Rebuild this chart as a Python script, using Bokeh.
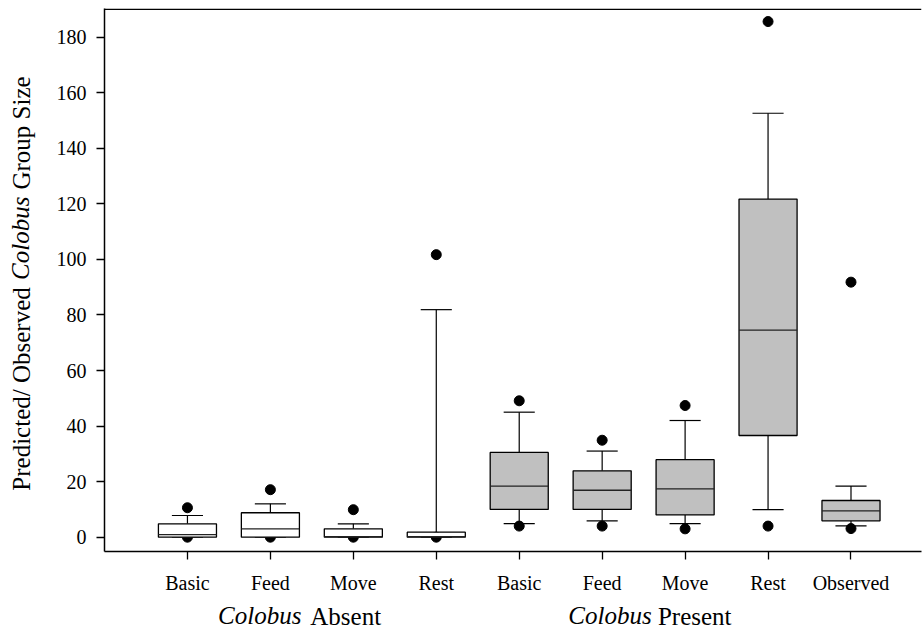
from bokeh.plotting import figure
from bokeh.models import FixedTicker, Span, Range1d, LinearAxis
from bokeh.embed import file_html
from bokeh.resources import INLINE

# ---- data ----
positions = [1, 2, 3, 4, 5, 6, 7, 8, 9]
categories = ["Basic", "Feed", "Move", "Rest", "Basic", "Feed", "Move", "Rest", "Observed"]
groups = ["Absent", "Absent", "Absent", "Absent", "Present", "Present", "Present", "Present", "Present"]
q1 = [0.0, 0.0, 0.0, 0.0, 10.0, 10.0, 8.0, 36.6, 5.9]
median = [0.9, 3.0, 0.2, 0.2, 18.4, 16.9, 17.4, 74.5, 9.5]
q3 = [4.8, 8.8, 3.0, 1.8, 30.5, 23.9, 27.9, 121.7, 13.2]
whisker_low = [0.0, 0.0, 0.0, 0.0, 4.9, 5.9, 4.9, 9.9, 4.1]
whisker_high = [7.8, 12.0, 4.8, 81.9, 45.0, 31.0, 42.0, 152.6, 18.4]
outlier_high = [10.6, 17.1, 9.9, 101.7, 49.1, 34.9, 47.4, 185.6, 91.8]
outlier_low = [0.0, 0.0, 0.0, 0.0, 4.0, 4.0, 3.0, 4.0, 3.1]
y_ticks = [0, 20, 40, 60, 80, 100, 120, 140, 160, 180]

group_italic = {1.872: "Colobus", 6.094: "Colobus"}
group_words = {2.908: "Absent", 7.116: "Present"}
ytitle_plain = {53.35: "Predicted/ Observed", 145.5: "Group Size"}
ytitle_italic = {107.6: "Colobus"}

BOX_W = 0.70
CAP_W = 0.375
FONT = "Liberation Serif"

fills = ["white" if g == "Absent" else "#c0c0c0" for g in groups]

p = figure(frame_width=817, frame_height=543,
           min_border_left=104, min_border_top=8, min_border_right=1, min_border_bottom=76,
           x_range=Range1d(0, 9.85), y_range=Range1d(-5.15, 190.3),
           output_backend="svg", toolbar_location=None)
p.outline_line_color = None
p.grid.visible = False
p.background_fill_color = "white"
p.border_fill_color = "white"

# outliers (drawn beneath boxes)
p.scatter(positions, outlier_high, size=10, color="black")
p.scatter(positions, outlier_low, size=10, color="black")

# whiskers
p.segment(x0=positions, y0=q3, x1=positions, y1=whisker_high, line_color="black", line_width=1.2)
p.segment(x0=positions, y0=q1, x1=positions, y1=whisker_low, line_color="black", line_width=1.2)
p.segment(x0=[x - CAP_W / 2 for x in positions], y0=whisker_high,
          x1=[x + CAP_W / 2 for x in positions], y1=whisker_high, line_color="black", line_width=1.2)
p.segment(x0=[x - CAP_W / 2 for x in positions], y0=whisker_low,
          x1=[x + CAP_W / 2 for x in positions], y1=whisker_low, line_color="black", line_width=1.2)

# boxes
p.vbar(x=positions, width=BOX_W, bottom=q1, top=q3, fill_color=fills,
       line_color="black", line_width=1.3)
# medians
p.segment(x0=[x - BOX_W / 2 for x in positions], y0=median,
          x1=[x + BOX_W / 2 for x in positions], y1=median, line_color="#222222", line_width=1.3)

# top border line
p.add_layout(Span(location=190, dimension="width", line_color="black", line_width=1.5))

# axes
for ax in (p.xaxis[0], p.yaxis[0]):
    ax.axis_line_color = "black"
    ax.axis_line_width = 1.5
    ax.major_tick_line_color = "black"
    ax.major_tick_line_width = 1.3
    ax.major_tick_in = 0
    ax.major_tick_out = 8
    ax.minor_tick_line_color = None
    ax.major_label_text_font = FONT
    ax.major_label_text_font_size = "20px"
    ax.major_label_text_color = "black"

p.yaxis.ticker = FixedTicker(ticks=y_ticks)
p.yaxis.major_label_standoff = 10
p.xaxis.ticker = FixedTicker(ticks=positions)
p.xaxis.major_label_overrides = {pos: cat for pos, cat in zip(positions, categories)}
p.xaxis.major_label_standoff = 12


def text_axis(labels, italic, standoff, orientation="horizontal"):
    ax = LinearAxis(ticker=FixedTicker(ticks=list(labels.keys())),
                    major_label_overrides=dict(labels))
    ax.axis_line_color = None
    ax.major_tick_line_color = None
    ax.minor_tick_line_color = None
    ax.major_tick_in = 0
    ax.major_tick_out = 0
    ax.minor_tick_in = 0
    ax.minor_tick_out = 0
    ax.major_label_text_font = FONT
    ax.major_label_text_font_size = "25px"
    ax.major_label_text_font_style = "italic" if italic else "normal"
    ax.major_label_text_color = "black"
    ax.major_label_standoff = standoff
    ax.major_label_orientation = orientation
    return ax


# group labels below the tick labels
p.add_layout(text_axis(group_italic, True, 5), "below")
p.add_layout(text_axis(group_words, False, -29), "below")

# y-axis title in pieces (italic Colobus)
p.add_layout(text_axis(ytitle_plain, False, 18, "vertical"), "left")
p.add_layout(text_axis(ytitle_italic, True, -29, "vertical"), "left")

open("out.html", "w").write(file_html(p, INLINE))
